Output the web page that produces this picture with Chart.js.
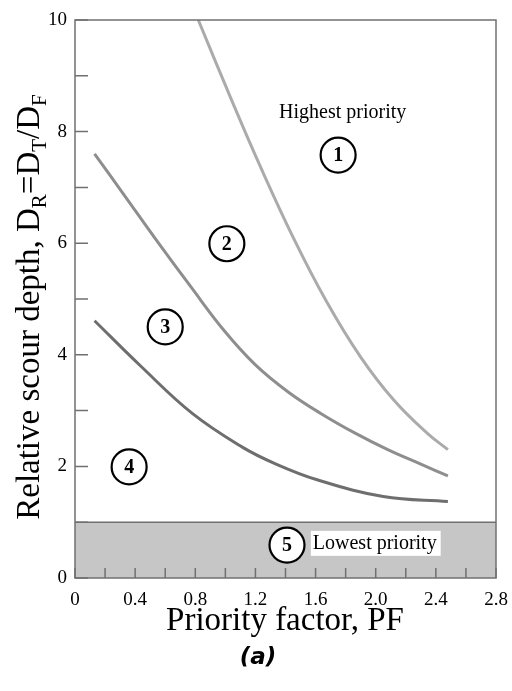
<!DOCTYPE html>
<html>
<head>
<meta charset="utf-8">
<script src="https://cdn.jsdelivr.net/npm/chart.js@4.4.0/dist/chart.umd.min.js"></script>
<style>
  html,body{margin:0;padding:0;background:#fff;}
  #wrap{width:512px;height:691px;position:relative;}
</style>
</head>
<body>
<div id="wrap"><canvas id="chart" width="512" height="691"></canvas></div>
<script>
// curve 1 (highest priority boundary)
const pf1 = [0.82, 1.05, 1.23, 1.45, 1.67, 1.90, 2.12, 2.34, 2.48];
const dr1 = [10.0, 8.51, 7.39, 6.11, 4.97, 3.96, 3.19, 2.60, 2.30];
// curve 2
const pf2 = [0.13, 0.32, 0.54, 0.77, 0.99, 1.20, 1.42, 1.64, 1.86, 2.08, 2.30, 2.48];
const dr2 = [7.60, 6.89, 6.06, 5.22, 4.44, 3.82, 3.33, 2.94, 2.60, 2.30, 2.04, 1.83];
// curve 3
const pf3 = [0.13, 0.44, 0.78, 1.11, 1.33, 1.61, 2.05, 2.48];
const dr3 = [4.61, 3.79, 2.95, 2.35, 2.05, 1.76, 1.46, 1.37];
// lowest priority band
const bandPF = [0, 2.8];
const bandDR = [1, 1];

const xTickLabels = ['0','0.4','0.8','1.2','1.6','2.0','2.4','2.8'];
const yTickLabels = ['0','2','4','6','8','10'];

// zone markers
const zoneNums = ['1','2','3','4','5'];
const zonePF = [1.75, 1.01, 0.60, 0.36, 1.41];
const zoneDR = [7.58, 5.99, 4.50, 1.99, 0.59];

const SERIF = '"Liberation Serif", "Times New Roman", serif';

function pts(xs, ys){ return xs.map((x,i)=>({x:x, y:ys[i]})); }

// frame, inside ticks, labels
const decor = {
  id:'decor',
  afterDatasetsDraw(chart){
    const ctx = chart.ctx, a = chart.chartArea;
    const xs = chart.scales.x, ys = chart.scales.y;
    ctx.save();
    ctx.strokeStyle = '#707070'; ctx.lineWidth = 1.5;
    ctx.strokeRect(a.left, a.top, a.right-a.left, a.bottom-a.top);
    ctx.beginPath();
    ys.ticks.forEach(t=>{
      const p = ys.getPixelForValue(t.value);
      ctx.moveTo(a.left, p); ctx.lineTo(a.left+13, p);
    });
    xs.ticks.forEach(t=>{
      const p = xs.getPixelForValue(t.value);
      ctx.moveTo(p, a.bottom); ctx.lineTo(p, a.bottom-10);
    });
    ctx.stroke();

    // white box + lowest priority text
    ctx.font = '20px ' + SERIF;
    ctx.textBaseline = 'middle'; ctx.textAlign = 'left';
    const lx = xs.getPixelForValue(1.575), ly = ys.getPixelForValue(0.63);
    const lw = ctx.measureText('Lowest priority').width;
    ctx.fillStyle = '#fff';
    ctx.fillRect(lx-1, ly-12, lw+6, 25);
    ctx.fillStyle = '#000';
    ctx.fillText('Lowest priority', lx+1, ly+1);

    ctx.textAlign = 'center';
    ctx.fillText('Highest priority', xs.getPixelForValue(1.78), ys.getPixelForValue(8.33));

    // circled numbers
    zoneNums.forEach((n,i)=>{
      const cx = xs.getPixelForValue(zonePF[i]), cy = ys.getPixelForValue(zoneDR[i]);
      ctx.beginPath();
      ctx.arc(cx, cy, 17.5, 0, Math.PI*2);
      ctx.fillStyle = '#fff'; ctx.fill();
      ctx.strokeStyle = '#000'; ctx.lineWidth = 2.2; ctx.stroke();
      ctx.fillStyle = '#000';
      ctx.font = 'bold 20px ' + SERIF;
      ctx.fillText(n, cx, cy+1);
    });

    // x title
    ctx.font = '33px ' + SERIF;
    ctx.textAlign = 'center'; ctx.textBaseline = 'alphabetic';
    ctx.fillText('Priority factor, PF', 285, 630);

    // (a)
    ctx.font = 'italic bold 23px "DejaVu Sans", sans-serif';
    ctx.fillText('(a)', 258, 664);

    // y title with subscripts
    const parts = [
      {t:'Relative scour depth, D'}, {t:'R', sub:true},
      {t:'=D'}, {t:'T', sub:true}, {t:'/D'}, {t:'F', sub:true}
    ];
    const mainF = '33px ' + SERIF, subF = '21px ' + SERIF;
    let total = 0;
    parts.forEach(p=>{ ctx.font = p.sub ? subF : mainF; p.w = ctx.measureText(p.t).width; total += p.w; });
    ctx.translate(39, 307);
    ctx.rotate(-Math.PI/2);
    ctx.textAlign = 'left';
    let cur = -total/2;
    parts.forEach(p=>{
      ctx.font = p.sub ? subF : mainF;
      ctx.fillText(p.t, cur, p.sub ? 7 : 0);
      cur += p.w;
    });
    ctx.restore();
  }
};

const ctx = document.getElementById('chart').getContext('2d');
new Chart(ctx, {
  type:'scatter',
  data:{
    datasets:[
      { data: pts(bandPF, bandDR), showLine:true, fill:'origin', backgroundColor:'#c6c6c6',
        borderColor:'#707070', borderWidth:1.5, pointRadius:0, order:4 },
      { data: pts(pf1, dr1), showLine:true, borderColor:'#ababab', borderWidth:3, pointRadius:0, tension:0.4, fill:false },
      { data: pts(pf2, dr2), showLine:true, borderColor:'#8e8e8e', borderWidth:3, pointRadius:0, tension:0.4, fill:false },
      { data: pts(pf3, dr3), showLine:true, borderColor:'#6e6e6e', borderWidth:3, pointRadius:0, tension:0.4, fill:false }
    ]
  },
  options:{
    responsive:false,
    animation:false,
    devicePixelRatio:1,
    layout:{ padding:{ top:20, right:16, left:0, bottom:0 } },
    plugins:{ legend:{display:false}, tooltip:{enabled:false} },
    scales:{
      x:{
        type:'linear', min:0, max:2.8,
        grid:{ display:false, drawTicks:false }, border:{ display:false },
        ticks:{ stepSize:0.2, autoSkip:false, maxRotation:0, padding:11, color:'#000',
          font:{ family:SERIF, size:19 },
          callback:(v,i)=> i%2===0 ? xTickLabels[i/2] : '' },
        afterFit(s){ s.height = 113; s.paddingLeft = 0; s.paddingRight = 0; }
      },
      y:{
        type:'linear', min:0, max:10,
        grid:{ display:false, drawTicks:false }, border:{ display:false },
        ticks:{ stepSize:1, autoSkip:false, padding:8, color:'#000',
          font:{ family:SERIF, size:19 },
          callback:(v,i)=> i%2===0 ? yTickLabels[i/2] : '' },
        afterFit(s){ s.width = 75; s.paddingTop = 0; s.paddingBottom = 0; }
      }
    }
  },
  plugins:[decor]
});
</script>
</body>
</html>
